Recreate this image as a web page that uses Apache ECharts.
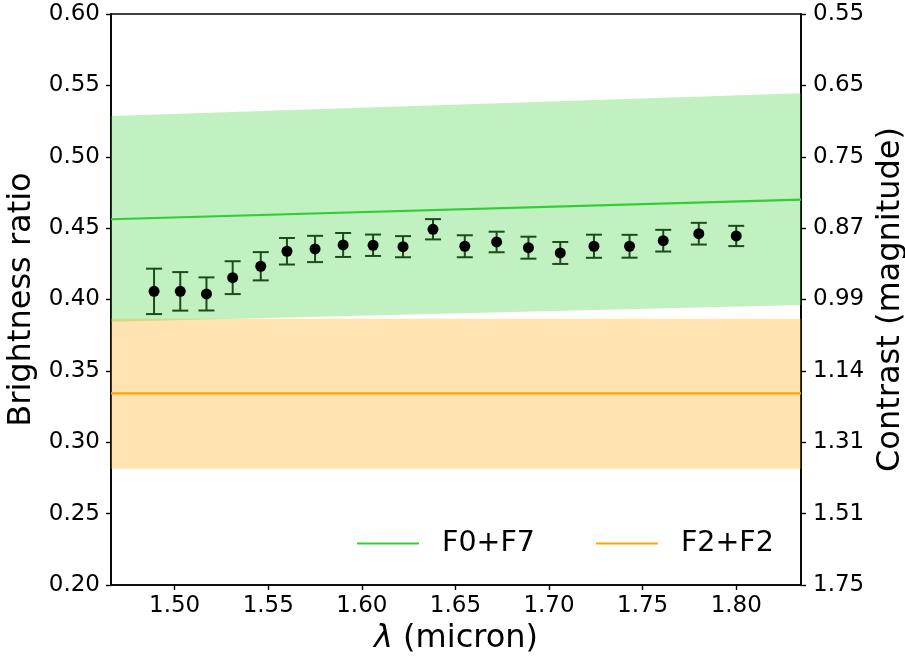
<!DOCTYPE html>
<html>
<head>
<meta charset="utf-8">
<script src="https://cdn.jsdelivr.net/npm/echarts@6/dist/echarts.min.js"></script>
<style>
html,body{margin:0;padding:0;background:#fff;}
#chart{width:905px;height:660px;}
</style>
</head>
<body>
<div id="chart"></div>
<script>
// ---- data ----
const wavelength = [1.489,1.503,1.517,1.531,1.546,1.560,1.575,1.590,1.606,1.622,1.638,1.655,1.672,1.689,1.706,1.724,1.743,1.761,1.780,1.800];
const ratio = [0.4057,0.4057,0.4039,0.4153,0.4233,0.4338,0.4354,0.4382,0.4380,0.4370,0.4492,0.4373,0.4403,0.4363,0.4326,0.4373,0.4373,0.4412,0.4461,0.4445];
const ratioErr = [0.0159,0.0135,0.0116,0.0115,0.0099,0.0093,0.0092,0.0084,0.0075,0.0074,0.0071,0.0077,0.0072,0.0077,0.0077,0.0081,0.0080,0.0076,0.0076,0.0071];

const bandWavelength = [1.466, 1.8346];
const f0f7Model = [0.4562, 0.4700];
const f0f7Upper = [0.5285, 0.5444];
const f0f7Lower = [0.3845, 0.3962];
const f2f2Model = [0.3343, 0.3343];
const f2f2Upper = [0.3866, 0.3866];
const f2f2Lower = [0.2814, 0.2814];

const seriesNames = ['F0+F7', 'F2+F2'];
const xTicks = [1.50, 1.55, 1.60, 1.65, 1.70, 1.75, 1.80];
const ratioTicks = ['0.20','0.25','0.30','0.35','0.40','0.45','0.50','0.55','0.60'];
const contrastTicks = ['1.75','1.51','1.31','1.14','0.99','0.87','0.75','0.65','0.55'];

// ---- build ----
const FONT = 'DejaVu Sans';
const green = '#32cd32', orange = '#ffa500';
const TICKFS = 23, TITLEFS = 32;

function bandItem(lo, hi) {
  return [bandWavelength[0], bandWavelength[1], lo[0], hi[0], lo[1], hi[1]];
}
function bandRender(fill) {
  return function (params, api) {
    const p0 = api.coord([api.value(0), api.value(2)]);
    const p1 = api.coord([api.value(0), api.value(3)]);
    const p2 = api.coord([api.value(1), api.value(5)]);
    const p3 = api.coord([api.value(1), api.value(4)]);
    return {
      type: 'polygon',
      shape: { points: [p0, p1, p2, p3] },
      style: { fill: fill, stroke: null },
      silent: true
    };
  };
}

const errData = wavelength.map((x, i) => [x, ratio[i] - ratioErr[i], ratio[i] + ratioErr[i]]);
const pts = wavelength.map((x, i) => [x, ratio[i]]);

const axisLineStyle = { color: '#000', width: 1.6 };
const tickStyle = { show: true, length: 5, lineStyle: { color: '#000', width: 1.4 } };

const chart = echarts.init(document.getElementById('chart'), null, { renderer: 'canvas' });
chart.setOption({
  animation: false,
  backgroundColor: '#fff',
  textStyle: { fontFamily: FONT },
  grid: { left: 111, right: 104, top: 14, bottom: 75, containLabel: false, outerBoundsMode: 'none',
          show: true, borderColor: '#000', borderWidth: 1.6, backgroundColor: 'transparent' },
  legend: {
    data: seriesNames,
    left: 352, top: 524,
    icon: 'rect', itemWidth: 62, itemHeight: 2.2,
    itemGap: 61,
    textStyle: { fontFamily: FONT, fontSize: 28.5, color: '#000', padding: [0, 0, 0, 18] }
  },
  xAxis: {
    type: 'value', min: bandWavelength[0], max: bandWavelength[1],
    name: '{i|λ} (micron)', nameLocation: 'middle', nameGap: 34,
    nameTextStyle: { fontFamily: FONT, fontSize: TITLEFS, color: '#000',
      rich: { i: { fontFamily: FONT, fontStyle: 'italic', fontSize: TITLEFS, color: '#000' } } },
    axisLine: { show: true, lineStyle: axisLineStyle },
    axisTick: Object.assign({ customValues: xTicks }, tickStyle),
    axisLabel: { customValues: xTicks, formatter: v => v.toFixed(2), fontFamily: FONT, fontSize: TICKFS, color: '#000', margin: 10 },
    splitLine: { show: false }
  },
  yAxis: [{
    type: 'value', min: 0.2, max: 0.6, interval: 0.05, position: 'left',
    name: 'Brightness ratio', nameLocation: 'middle', nameGap: 72, nameRotate: 90,
    nameTextStyle: { fontFamily: FONT, fontSize: TITLEFS, color: '#000' },
    axisLine: { show: true, lineStyle: axisLineStyle },
    axisTick: tickStyle,
    axisLabel: { formatter: v => ratioTicks[Math.round((v - 0.2) / 0.05)], fontFamily: FONT, fontSize: TICKFS, color: '#000', margin: 11 },
    splitLine: { show: false }
  }, {
    type: 'value', min: 0.2, max: 0.6, interval: 0.05, position: 'right',
    name: 'Contrast (magnitude)', nameLocation: 'middle', nameGap: 71, nameRotate: 90,
    nameTextStyle: { fontFamily: FONT, fontSize: TITLEFS, color: '#000' },
    axisLine: { show: true, lineStyle: axisLineStyle },
    axisTick: tickStyle,
    axisLabel: { formatter: v => contrastTicks[Math.round((v - 0.2) / 0.05)], fontFamily: FONT, fontSize: TICKFS, color: '#000', margin: 12 },
    splitLine: { show: false }
  }],
  series: [
    { type: 'custom', name: 'band1', renderItem: bandRender('rgba(50,205,50,0.3)'), data: [bandItem(f0f7Lower, f0f7Upper)], encode: { x: [0, 1], y: [2, 3, 4, 5] }, z: 1, clip: true, silent: true },
    { type: 'custom', name: 'band2', renderItem: bandRender('rgba(255,165,0,0.3)'), data: [bandItem(f2f2Lower, f2f2Upper)], encode: { x: [0, 1], y: [2, 3, 4, 5] }, z: 1, clip: true, silent: true },
    { type: 'line', name: seriesNames[0], data: bandWavelength.map((x, i) => [x, f0f7Model[i]]), showSymbol: false, symbol: 'none', lineStyle: { color: green, width: 2.2 }, itemStyle: { color: green }, z: 2 },
    { type: 'line', name: seriesNames[1], data: bandWavelength.map((x, i) => [x, f2f2Model[i]]), showSymbol: false, symbol: 'none', lineStyle: { color: orange, width: 2.2 }, itemStyle: { color: orange }, z: 2 },
    { type: 'custom', name: 'err', data: errData, encode: { x: 0, y: [1, 2] }, z: 3,
      renderItem: function (params, api) {
        const x = api.value(0);
        const lo = api.coord([x, api.value(1)]);
        const hi = api.coord([x, api.value(2)]);
        const hw = 8;
        const st = { stroke: '#1d4b1d', lineWidth: 2 };
        return { type: 'group', children: [
          { type: 'line', shape: { x1: lo[0], y1: lo[1], x2: hi[0], y2: hi[1] }, style: st },
          { type: 'line', shape: { x1: lo[0] - hw, y1: lo[1], x2: lo[0] + hw, y2: lo[1] }, style: st },
          { type: 'line', shape: { x1: hi[0] - hw, y1: hi[1], x2: hi[0] + hw, y2: hi[1] }, style: st }
        ] };
      } },
    { type: 'scatter', name: 'data', data: pts, symbol: 'circle', symbolSize: 11, itemStyle: { color: '#000', opacity: 1 }, z: 4 }
  ]
});
</script>
</body>
</html>
